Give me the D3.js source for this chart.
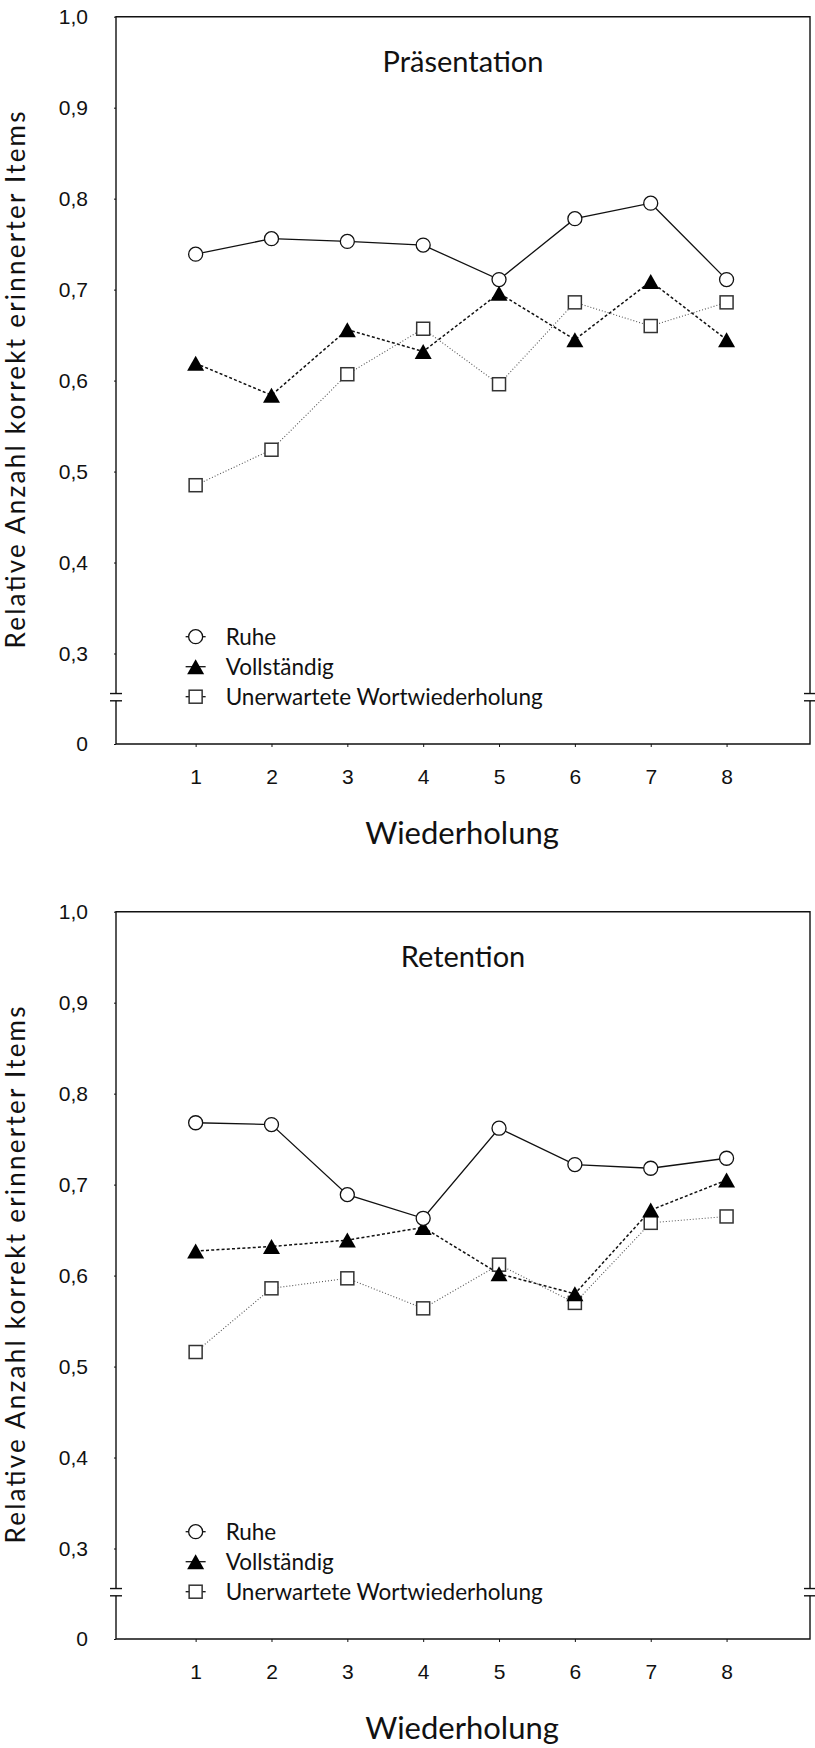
<!DOCTYPE html>
<html>
<head>
<meta charset="utf-8">
<script src="https://cdn.jsdelivr.net/npm/d3@7"></script>
<style>
  body { margin: 0; background: #fff; }
  svg { display: block; font-family: Lato, "Open Sans", sans-serif; }
</style>
</head>
<body>
<div id="chart"></div>
<script>
// Werte
const repetitions = [1, 2, 3, 4, 5, 6, 7, 8];
const yTicks = [0, 0.3, 0.4, 0.5, 0.6, 0.7, 0.8, 0.9, 1.0];
const seriesNames = ["Ruhe", "Vollständig", "Unerwartete Wortwiederholung"];

const praesRuhe  = [0.739, 0.756, 0.753, 0.749, 0.711, 0.778, 0.795, 0.711];
const praesVoll  = [0.619, 0.584, 0.656, 0.632, 0.696, 0.645, 0.709, 0.645];
const praesUnerw = [0.485, 0.524, 0.607, 0.657, 0.596, 0.686, 0.660, 0.686];

const retRuhe  = [0.768, 0.766, 0.689, 0.663, 0.762, 0.722, 0.718, 0.729];
const retVoll  = [0.627, 0.632, 0.639, 0.653, 0.602, 0.580, 0.672, 0.705];
const retUnerw = [0.516, 0.586, 0.597, 0.564, 0.612, 0.570, 0.658, 0.665];

const BLACK = "#111";
const DOT_GREY = "#555";

const W = 815, H = 1748;
const PANEL_OFFSET = 895;

const svg = d3.select("#chart").append("svg")
  .attr("width", W)
  .attr("height", H);

// x: Wiederholung, Achse laeuft etwas ueber 0..9 hinaus
const x = d3.scaleLinear().domain([-0.05, 9.1]).range([116, 810]);
// y mit Achsenbruch zwischen 0 und 0,3
const y = d3.scaleLinear().domain([0, 0.25, 1.0]).range([744, 699, 16.7]);

const styles = [
  { dash: null, width: 1.3, color: BLACK, marker: "circle" },
  { dash: "3,2.2", width: 1.5, color: BLACK, marker: "triangle" },
  { dash: "1,2", width: 1.1, color: DOT_GREY, marker: "square" }
];

function drawMarker(sel, type) {
  if (type == "circle") {
    sel.append("circle").attr("r", 7)
      .attr("fill", "#fff").attr("stroke", BLACK).attr("stroke-width", 1.3);
  } else if (type == "triangle") {
    sel.append("path").attr("d", "M0,-7.5L8.5,7.5L-8.5,7.5Z")
      .attr("fill", "#000");
  } else {
    sel.append("rect").attr("x", -6.5).attr("y", -6.5)
      .attr("width", 13).attr("height", 13)
      .attr("fill", "#fff").attr("stroke", "#333").attr("stroke-width", 1.5);
  }
}

function drawPanel(offset, title, seriesList) {
  const g = svg.append("g").attr("transform", "translate(0," + offset + ")");

  const left = x.range()[0], right = x.range()[1];
  const top = y(1.0), bottom = y(0);
  const brkHi = y(0.256), brkLo = y(0.24);

  // Rahmen mit Bruchstellen
  const frame = g.append("g").attr("stroke", BLACK).attr("stroke-width", 1.4).attr("fill", "none");
  frame.append("path").attr("d",
    `M${left},${brkHi}L${left},${top}L${right},${top}L${right},${brkHi}`);
  frame.append("path").attr("d",
    `M${left},${brkLo}L${left},${bottom}L${right},${bottom}L${right},${brkLo}`);
  [left, right].forEach(px => {
    frame.append("line").attr("x1", px - 6).attr("x2", px + 6).attr("y1", brkHi).attr("y2", brkHi);
    frame.append("line").attr("x1", px - 6).attr("x2", px + 6).attr("y1", brkLo).attr("y2", brkLo);
  });

  // y Achse
  const yAxis = g.append("g")
    .attr("transform", "translate(" + left + ",0)")
    .call(d3.axisLeft(y).tickValues(yTicks).tickSize(2).tickPadding(26)
      .tickFormat(d => d == 0 ? "0" : d3.format(".1f")(d).replace(".", ",")));
  yAxis.select(".domain").remove();
  yAxis.selectAll("line").attr("stroke", BLACK);
  yAxis.selectAll("text").style("font-size", "21px").attr("fill", BLACK);

  // x Achse
  const xAxis = g.append("g")
    .attr("transform", "translate(0," + bottom + ")")
    .call(d3.axisBottom(x).tickValues(repetitions).tickSize(3).tickPadding(22));
  xAxis.select(".domain").remove();
  xAxis.selectAll("line").attr("stroke", BLACK);
  xAxis.selectAll("text").style("font-size", "21px").attr("fill", BLACK);

  // Titel
  g.append("text")
    .attr("x", 463).attr("y", 72)
    .attr("text-anchor", "middle")
    .style("font-size", "29px")
    .attr("fill", BLACK)
    .text(title);

  // Achsentitel
  g.append("text")
    .attr("x", 462).attr("y", 844)
    .attr("text-anchor", "middle")
    .style("font-size", "31px")
    .attr("fill", BLACK)
    .text("Wiederholung");

  g.append("text")
    .attr("transform", "translate(25,380) rotate(-90)")
    .attr("text-anchor", "middle")
    .style("font-size", "26px")
    .attr("textLength", 537)
    .attr("lengthAdjust", "spacing")
    .attr("fill", BLACK)
    .text("Relative Anzahl korrekt erinnerter Items");

  // Linien
  const line = d3.line()
    .x((d, i) => x(repetitions[i]))
    .y(d => y(d));

  seriesList.forEach((values, si) => {
    const st = styles[si];
    g.append("path")
      .datum(values)
      .attr("d", line)
      .attr("fill", "none")
      .attr("stroke", st.color)
      .attr("stroke-width", st.width)
      .attr("stroke-dasharray", st.dash);
  });

  // Marker (Ruhe oben)
  [2, 1, 0].forEach(si => {
    const st = styles[si];
    g.selectAll(".m" + si)
      .data(seriesList[si])
      .enter().append("g")
      .attr("class", "m" + si)
      .attr("transform", (d, i) => "translate(" + x(repetitions[i]) + "," + y(d) + ")")
      .each(function() { drawMarker(d3.select(this), st.marker); });
  });

  // Legende
  const legX = x(1), legY = [636.7, 666.7, 696.7];
  seriesNames.forEach((name, si) => {
    const lg = g.append("g").attr("transform", "translate(" + legX + "," + legY[si] + ")");
    lg.append("line").attr("x1", -10).attr("x2", 10)
      .attr("stroke", BLACK).attr("stroke-width", 1.3);
    drawMarker(lg, styles[si].marker);
    lg.append("text")
      .attr("x", 30).attr("y", 8)
      .style("font-size", "22.5px")
      .attr("fill", BLACK)
      .text(name);
  });
}

drawPanel(0, "Präsentation", [praesRuhe, praesVoll, praesUnerw]);
drawPanel(PANEL_OFFSET, "Retention", [retRuhe, retVoll, retUnerw]);
</script>
</body>
</html>
